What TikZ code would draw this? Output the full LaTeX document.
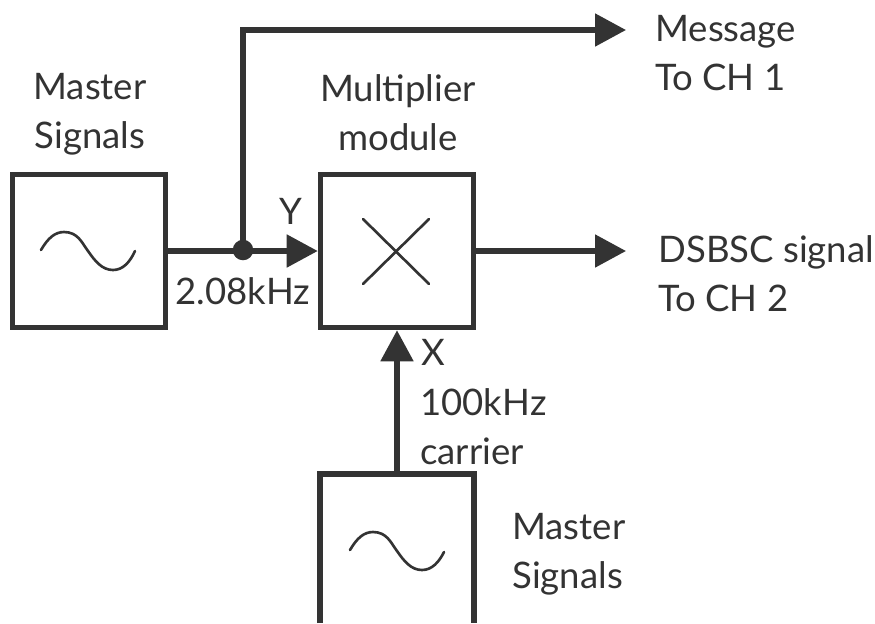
\documentclass[tikz,border=0pt]{standalone}
\usepackage{fontspec}
\setmainfont{Lato}
\usetikzlibrary{arrows.meta}
\definecolor{ink}{HTML}{333333}
\begin{document}
\begin{tikzpicture}[
    x=0.02cm, y=-0.02cm,
    color=ink,
    block/.style={draw=ink, line width=2.9pt, minimum width=3.07cm, minimum height=3.07cm, inner sep=0pt},
    sigline/.style={-{Triangle[length=0.62cm, width=0.64cm]}, line width=2.9pt},
    plainline/.style={line width=2.9pt},
    thinline/.style={line width=1.5pt, line cap=round},
    caption/.style={font=\fontsize{20.8pt}{28pt}\selectfont, align=left, inner sep=0pt, text=ink}
]
\useasboundingbox (0,0) rectangle (875,623);

\node[block] (src) at (89,251) {};
\node[block] (mult) at (397,251) {};
\coordinate (msgend) at (626,30);
\coordinate (dsbend) at (626,251);
\coordinate (corner) at (243,30);
\coordinate (carrierbl) at (320,623);
\coordinate (carrierbr) at (474,623);
\coordinate (carriertl) at (320,474);
\coordinate (carriertr) at (474,474);
\coordinate (carriertop) at (397,474);

\node[circle, fill=ink, minimum size=0.41cm, inner sep=0pt] (tap) at (243,250) {};

\draw[plainline] (carrierbl) -- (carriertl) -- (carriertr) -- (carrierbr);
\draw[sigline] (src) -- (mult);
\draw[sigline] (tap.center) -- (corner) -- (msgend);
\draw[sigline] (mult) -- (dsbend);
\draw[sigline] (carriertop) -- (mult);

% sine waves and cross
\draw[thinline] (41,250) .. controls (48,238) and (55,232) .. (64,232) .. controls (78,232) and (82,243) .. (88,251) .. controls (95,261) and (102,270) .. (113,270) .. controls (123,270) and (130,262) .. (135,251);
\draw[thinline] (350,550) .. controls (357,538) and (364,532) .. (373,532) .. controls (387,532) and (391,543) .. (397,551) .. controls (404,561) and (411,570) .. (422,570) .. controls (432,570) and (439,562) .. (444,552);
\draw[thinline] (363,219) -- (429,284);
\draw[thinline] (429,219) -- (363,284);

\node[caption, align=center] (srclbl) at (90,114) {Master\\Signals};
\node[caption, align=center] (multlbl) at (398,113) {Multiplier\\module};
\node[caption, anchor=west] (msglbl) at (655,53) {Message\\To CH 1};
\node[caption, anchor=west] (dsblbl) at (658,274) {DSBSC signal\\To CH 2};
\node[caption] (ylbl) at (291,211) {Y};
\node[caption] (freqlbl) at (243,291) {2.08kHz};
\node[caption] (xlbl) at (433,352) {X};
\node[caption, anchor=west] (carrierlbl) at (420,427) {100kHz\\carrier};
\node[caption, anchor=west] (srclbl2) at (512,554) {Master\\Signals};
\end{tikzpicture}
\end{document}
